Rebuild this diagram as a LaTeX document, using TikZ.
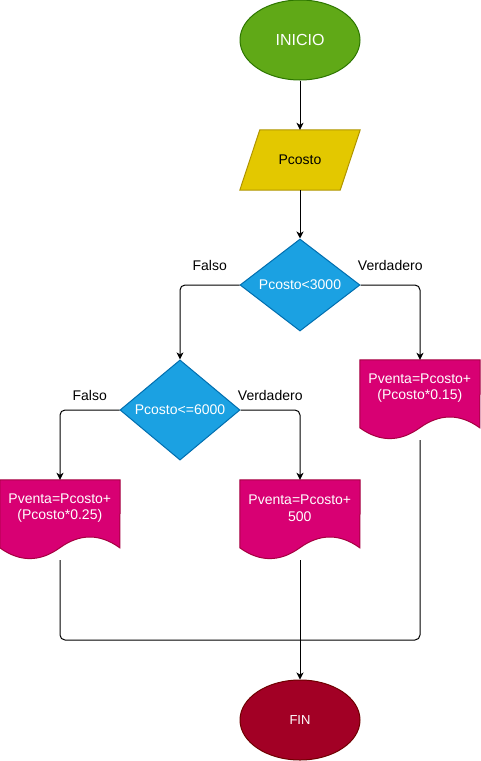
\documentclass[tikz,border=0pt]{standalone}
\usepackage{fontspec}
\setmainfont{Liberation Sans}
\usetikzlibrary{shapes.geometric,arrows.meta}
\definecolor{gfill}{HTML}{60A917}
\definecolor{gline}{HTML}{2D7600}
\definecolor{yfill}{HTML}{E3C800}
\definecolor{yline}{HTML}{B09500}
\definecolor{bfill}{HTML}{1BA1E2}
\definecolor{bline}{HTML}{006EAF}
\definecolor{pfill}{HTML}{D80073}
\definecolor{pline}{HTML}{A50040}
\definecolor{rfill}{HTML}{A20025}
\definecolor{rline}{HTML}{6F0000}
\tikzset{
  every node/.style={font=\fontsize{14}{16.5}\selectfont},
  startbox/.style={ellipse, minimum width=120pt, minimum height=80pt, inner sep=0pt, draw=gline, fill=gfill, text=white, line width=1pt, font=\fontsize{16}{19}\selectfont},
  endbox/.style={ellipse, minimum width=120pt, minimum height=80pt, inner sep=0pt, draw=rline, fill=rfill, text=white, line width=1pt, font=\fontsize{13}{16}\selectfont},
  frame/.style={rectangle, inner sep=0pt, minimum width=120pt},
  iobox/.style={draw=yline, fill=yfill, line width=1pt},
  decbox/.style={diamond, minimum width=120pt, inner sep=0pt, draw=bline, fill=bfill, text=white, line width=1pt},
  docbox/.style={draw=pline, fill=pfill, line width=1pt},
  doctext/.style={text=white, align=center, inner sep=0pt},
  lbl/.style={text=black, inner sep=0pt},
  conn/.style={line width=1pt, rounded corners=5pt},
  arr/.style={conn, -{Stealth[length=7pt,width=7pt,inset=2pt]}},
}
\begin{document}
\begin{tikzpicture}[x=1pt,y=-1pt]
\useasboundingbox (0,0) rectangle (481,761);
% start
\node[startbox] (ini) at (300,40) {INICIO};
% input
\node[frame, minimum height=60pt] (inp) at (300,160) {};
\path[iobox] ([shift={(20,0)}]inp.north west) -- (inp.north east) -- ([shift={(-20,0)}]inp.south east) -- (inp.south west) -- cycle;
\node at (inp.center) {Pcosto};
% decisions
\node[decbox, minimum height=90pt] (c1) at (300,285) {Pcosto<3000};
\node[decbox, minimum height=100pt] (c2) at (180,410) {Pcosto<=6000};
% documents
\foreach \n/\p in {d3/{(420,400)}, d1/{(60,520)}, d2/{(300,520)}}{
  \node[frame, minimum height=80pt] (\n) at \p {};
  \path[docbox] (\n.north west) -- (\n.north east) -- ([shift={(120,68)}]\n.north west)
    .. controls ([shift={(100,53.6)}]\n.north west) and ([shift={(80,53.6)}]\n.north west) .. ([shift={(60,68)}]\n.north west)
    .. controls ([shift={(40,82.4)}]\n.north west) and ([shift={(20,82.4)}]\n.north west) .. ([shift={(0,68)}]\n.north west)
    -- cycle;
}
\node[doctext] (t3) at ([shift={(60,28.5)}]d3.north west) {Pventa=Pcosto+\\(Pcosto*0.15)};
\node[doctext] (t1) at ([shift={(60,28.5)}]d1.north west) {Pventa=Pcosto+\\(Pcosto*0.25)};
\node[doctext] (t2) at ([shift={(60,28.5)}]d2.north west) {Pventa=Pcosto+\\500};
% end
\node[endbox] (fin) at (300,720) {FIN};
% connectors
\draw[arr] (ini.south) -- (inp.north);
\draw[arr] (inp.south) -- (c1.north);
\draw[arr] (c1.west) -| node[lbl, pos=0.25, yshift=20pt] {Falso} (c2.north);
\draw[arr] (c1.east) -| node[lbl, pos=0.25, yshift=20pt] {Verdadero} (d3.north);
\draw[arr] (c2.west) -| node[lbl, pos=0.25, yshift=15pt] {Falso} (d1.north);
\draw[arr] (c2.east) -| node[lbl, pos=0.25, yshift=15pt] {Verdadero} (d2.north);
\coordinate (m) at (300,640);
\draw[conn] (d1.south) |- (m) -| (d3.south);
\draw[arr] (d2.south) -- (fin.north);
\end{tikzpicture}
\end{document}
